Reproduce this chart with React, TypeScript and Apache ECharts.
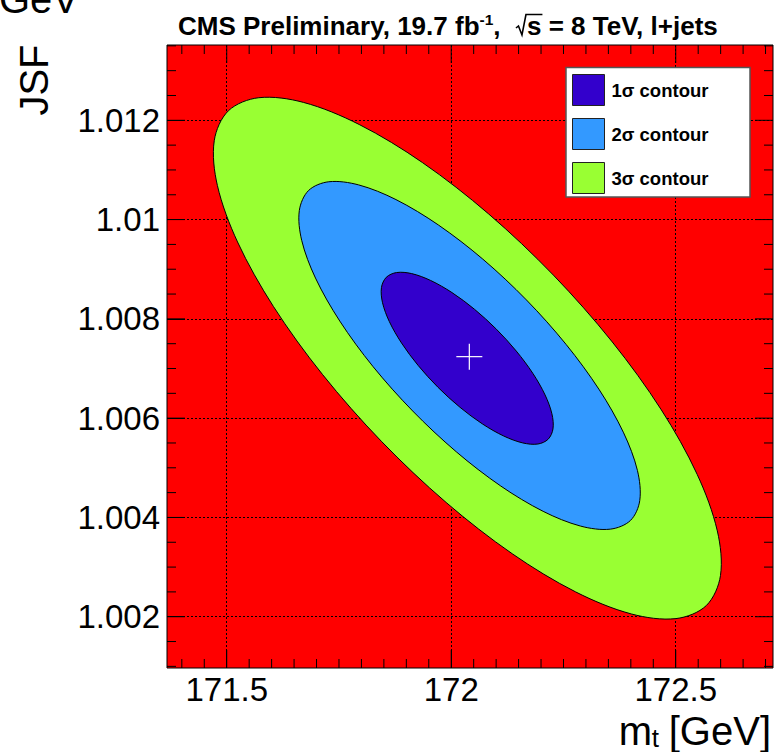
import React, { useEffect, useRef } from 'react';
import * as echarts from 'echarts';

// Axis ranges (read from the frame edges)
const X_MIN = 171.367;
const X_MAX = 172.7166;
const Y_MIN = 1.000967;
const Y_MAX = 1.013517;

const xMajorTicks = [171.5, 172, 172.5];
const xMinorTicks = [
  171.4, 171.45, 171.55, 171.6, 171.65, 171.7, 171.75, 171.8, 171.85, 171.9, 171.95,
  172.05, 172.1, 172.15, 172.2, 172.25, 172.3, 172.35, 172.4, 172.45, 172.55, 172.6, 172.65, 172.7,
];
const yMajorTicks = [1.002, 1.004, 1.006, 1.008, 1.01, 1.012];
const yMinorTicks = [
  1.001, 1.0015, 1.0025, 1.003, 1.0035, 1.0045, 1.005, 1.0055, 1.0065, 1.007, 1.0075,
  1.0085, 1.009, 1.0095, 1.0105, 1.011, 1.0115, 1.0125, 1.013, 1.0135,
];

// Contour boundaries [m_t, JSF]
const contour3Sigma: [number, number][] = [
  [172.5681, 1.002225], [172.5996, 1.002828], [172.5926, 1.003729], [172.5477, 1.004868],
  [172.468, 1.006166], [172.3587, 1.007535], [172.2275, 1.008882], [172.0832, 1.010115],
  [171.9357, 1.01115], [171.795, 1.011916], [171.6708, 1.012361], [171.5714, 1.012455],
  [171.5037, 1.012192], [171.4722, 1.011589], [171.4792, 1.010688], [171.5241, 1.009549],
  [171.6039, 1.008251], [171.7131, 1.006882], [171.8443, 1.005535], [171.9886, 1.004302],
  [172.1361, 1.003267], [172.2768, 1.002501], [172.401, 1.002056], [172.5004, 1.001962],
];
const contour2Sigma: [number, number][] = [
  [172.3993, 1.00394], [172.4199, 1.004343], [172.4147, 1.004945], [172.3839, 1.005704],
  [172.3298, 1.00657], [172.256, 1.007483], [172.1675, 1.008381], [172.0704, 1.009203],
  [171.9713, 1.009892], [171.8769, 1.010403], [171.7937, 1.010699], [171.7273, 1.010762],
  [171.6823, 1.010586], [171.6617, 1.010183], [171.667, 1.009581], [171.6977, 1.008822],
  [171.7518, 1.007956], [171.8256, 1.007042], [171.9141, 1.006145], [172.0112, 1.005323],
  [172.1103, 1.004633], [172.2047, 1.004123], [172.2879, 1.003826], [172.3543, 1.003764],
];
const contour1Sigma: [number, number][] = [
  [172.2159, 1.005576], [172.2266, 1.005783], [172.2242, 1.006088], [172.209, 1.006468],
  [172.182, 1.006899], [172.1449, 1.007351], [172.1005, 1.007793], [172.0516, 1.008195],
  [172.0016, 1.00853], [171.954, 1.008774], [171.9119, 1.008912], [171.8782, 1.008933],
  [171.8553, 1.008837], [171.8446, 1.00863], [171.847, 1.008325], [171.8622, 1.007945],
  [171.8893, 1.007514], [171.9263, 1.007062], [171.9707, 1.00662], [172.0196, 1.006218],
  [172.0696, 1.005883], [172.1172, 1.005639], [172.1593, 1.005501], [172.193, 1.005479],
];
const bestFit: [number, number][] = [[172.0403, 1.007239]];

const contourNames = ['1σ contour', '2σ contour', '3σ contour'];
const titleParts = ['CMS Preliminary, 19.7 fb', '-1', ',  ', 's', ' = 8 TeV, l+jets'];
const xTitleParts = ['m', 't', '[GeV]'];
const yTitle = 'JSF';

const FONT = "'Liberation Sans', Arial, Helvetica, sans-serif";
const COLORS = { s1: '#3300cc', s2: '#3399ff', s3: '#99ff33', bg: '#ff0000' };

function polygonRenderer(points: [number, number][], fill: string) {
  return (params: any, api: any) => {
    if (params.dataIndex !== 0) return null;
    const pts = points.map((p) => api.coord(p));
    return {
      type: 'polygon',
      shape: { points: pts, smooth: 0.33 },
      style: { fill, stroke: '#000', lineWidth: 1 },
    };
  };
}

const fmt = (v: number) => String(parseFloat(v.toFixed(3)));

export default function App() {
  const ref = useRef<HTMLDivElement>(null);
  useEffect(() => {
    if (!ref.current) return;
    const chart = echarts.init(ref.current, undefined, { renderer: 'svg' });

    const canvas = document.createElement('canvas');
    const ctx = canvas.getContext('2d')!;
    const measure = (t: string, size: number, bold: boolean) => {
      ctx.font = `${bold ? 'bold ' : ''}${size}px ${FONT}`;
      return ctx.measureText(t).width;
    };

    const graphics: any[] = [];
    const txt = (text: string, x: number, y: number, size: number, bold: boolean, extra: any = {}) => ({
      type: 'text',
      x,
      y,
      z: 10,
      style: {
        text,
        fontSize: size,
        fontWeight: bold ? 'bold' : 'normal',
        fontFamily: FONT,
        fill: '#000',
        align: 'left',
        verticalAlign: 'middle',
        ...extra,
      },
    });

    // Title layout
    const tSize = 26;
    const supSize = 15.5;
    let tx = 178;
    const tY = 26;
    graphics.push(txt(titleParts[0], tx, tY, tSize, true));
    tx += measure(titleParts[0], tSize, true);
    graphics.push(txt(titleParts[1], tx, 19, supSize, true));
    tx += measure(titleParts[1], supSize, true);
    graphics.push(txt(titleParts[2], tx, tY, tSize, true));
    tx += measure(titleParts[2], tSize, true);
    const sW = measure(titleParts[3], tSize, true);
    graphics.push({
      type: 'polyline',
      z: 10,
      shape: {
        points: [
          [tx + 1, 28],
          [tx + 3.5, 26],
          [tx + 7, 35],
          [tx + 11, 14.5],
          [tx + 13 + sW, 14.5],
        ],
      },
      style: { stroke: '#000', lineWidth: 1.6, fill: null },
    });
    tx += 12;
    graphics.push(txt(titleParts[3], tx, tY, tSize, true));
    tx += sW;
    graphics.push(txt(titleParts[4], tx, tY, tSize, true));

    // x-axis title
    const axSize = 40;
    const gevW = measure(xTitleParts[2], axSize, false);
    const gevLeft = 771 - gevW;
    graphics.push(txt(xTitleParts[2], gevLeft, 731, axSize, false, { lineHeight: 36 }));
    graphics.push(txt(xTitleParts[0], gevLeft - 50, 731, axSize, false, { lineHeight: 36 }));
    graphics.push(txt(xTitleParts[1], gevLeft - 17, 738, 26, false, { lineHeight: 18 }));

    // y-axis title
    graphics.push({
      type: 'text',
      x: 34,
      y: 80,
      rotation: Math.PI / 2,
      z: 10,
      style: {
        text: yTitle,
        fontSize: axSize,
        fontFamily: FONT,
        fill: '#000',
        align: 'center',
        verticalAlign: 'middle',
      },
    });
    // Cropped unit label at the top-left corner (cut by the page edge, as in the reference)
    graphics.push(txt('GeV', -1, -1, axSize, false));

    // Legend box
    graphics.push({
      type: 'rect',
      z: 3,
      shape: { x: 566, y: 67.5, width: 184, height: 129.5 },
      style: { fill: '#ffffff', stroke: '#555', lineWidth: 1.5 },
    });

    const tickLine = { color: '#000', width: 1 };
    const gridLine = { show: true, lineStyle: { color: '#000', width: 1, type: [2, 2] } };
    const labelStyle = { show: true, fontSize: 33, fontFamily: FONT, color: '#000', formatter: fmt };

    const contourSeries = (name: string, pts: [number, number][], color: string) => ({
      type: 'custom',
      name,
      xAxisIndex: 0,
      yAxisIndex: 0,
      data: pts,
      encode: { x: 0, y: 1 },
      itemStyle: { color, borderColor: '#000', borderWidth: 1 },
      renderItem: polygonRenderer(pts, color),
      silent: true,
    });

    chart.setOption({
      animation: false,
      backgroundColor: '#ffffff',
      grid: {
        left: 167,
        top: 45,
        width: 606,
        height: 623,
        show: true,
        backgroundColor: COLORS.bg,
        borderColor: '#000',
        borderWidth: 1,
        containLabel: false,
        outerBoundsMode: 'none',
      },
      xAxis: {
        type: 'value',
        min: X_MIN,
        max: X_MAX,
        position: 'bottom',
        axisLine: { show: false, onZero: false },
        axisTick: { show: true, inside: true, length: 18, customValues: xMajorTicks, lineStyle: tickLine },
        axisLabel: { ...labelStyle, margin: 5, customValues: xMajorTicks },
        splitLine: gridLine,
      },
      yAxis: {
        type: 'value',
        min: Y_MIN,
        max: Y_MAX,
        position: 'left',
        axisLine: { show: false, onZero: false },
        axisTick: { show: true, inside: true, length: 18, customValues: yMajorTicks, lineStyle: tickLine },
        axisLabel: { ...labelStyle, margin: 7, customValues: yMajorTicks },
        splitLine: gridLine,
      },
      legend: {
        data: contourNames.map((n) => ({ name: n, icon: 'rect' })),
        orient: 'vertical',
        left: 572,
        top: 74,
        padding: 0,
        itemWidth: 32,
        itemHeight: 31,
        itemGap: 12,
        selectedMode: false,
        z: 6,
        itemStyle: { borderColor: '#222', borderWidth: 1 },
        textStyle: { fontSize: 18.5, fontWeight: 'bold', fontFamily: FONT, color: '#000', padding: [0, 0, 0, 2] },
      },
      graphic: graphics,
      series: [
        contourSeries(contourNames[2], contour3Sigma, COLORS.s3),
        contourSeries(contourNames[1], contour2Sigma, COLORS.s2),
        contourSeries(contourNames[0], contour1Sigma, COLORS.s1),
        {
          type: 'custom',
          name: 'best fit',
          xAxisIndex: 0,
          yAxisIndex: 0,
          data: bestFit,
          encode: { x: 0, y: 1 },
          silent: true,
          renderItem: (params: any, api: any) => {
            const c = api.coord([api.value(0), api.value(1)]);
            return {
              type: 'group',
              children: [
                { type: 'line', shape: { x1: c[0] - 13, y1: c[1], x2: c[0] + 13, y2: c[1] }, style: { stroke: '#ffffff', lineWidth: 1.2 } },
                { type: 'line', shape: { x1: c[0], y1: c[1] - 13, x2: c[0], y2: c[1] + 13 }, style: { stroke: '#ffffff', lineWidth: 1.2 } },
              ],
            };
          },
        },
        {
          // Inside tick marks on all four sides of the frame
          type: 'custom',
          name: 'frame ticks',
          xAxisIndex: 0,
          yAxisIndex: 0,
          data: [[X_MIN, Y_MIN]],
          encode: { x: 0, y: 1 },
          silent: true,
          z: 3,
          renderItem: (params: any, api: any) => {
            if (params.dataIndex !== 0) return null;
            const cs = params.coordSys;
            const left = cs.x;
            const right = cs.x + cs.width;
            const top = cs.y;
            const bottom = cs.y + cs.height;
            const st = { stroke: '#000', lineWidth: 1 };
            const children: any[] = [];
            const seg = (x1: number, y1: number, x2: number, y2: number) =>
              children.push({ type: 'line', shape: { x1, y1, x2, y2 }, style: st });
            const xt = (v: number, len: number) => {
              const px = api.coord([v, Y_MIN])[0];
              seg(px, bottom, px, bottom - len);
              seg(px, top, px, top + len);
            };
            const yt = (v: number, len: number) => {
              const py = api.coord([X_MIN, v])[1];
              seg(left, py, left + len, py);
              seg(right, py, right - len, py);
            };
            xMajorTicks.forEach((v) => xt(v, 18));
            xMinorTicks.forEach((v) => xt(v, 9));
            yMajorTicks.forEach((v) => yt(v, 18));
            yMinorTicks.forEach((v) => yt(v, 9));
            return { type: 'group', children };
          },
        },
      ],
    });
    return () => chart.dispose();
  }, []);
  return <div ref={ref} style={{ position: 'absolute', left: 0, top: 0, width: 779, height: 752 }} />;
}
